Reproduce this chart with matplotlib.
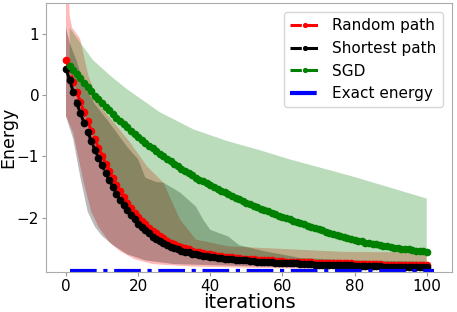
import numpy as np
import matplotlib
matplotlib.use("Agg")
import matplotlib.pyplot as plt

# mean energies per iteration
iters = np.arange(0, 101)
random_path = [0.57, 0.42, 0.22, 0.05, -0.12, -0.28, -0.43, -0.58, -0.72, -0.86,
               -0.99, -1.12, -1.24, -1.36, -1.47, -1.57, -1.67, -1.76, -1.84, -1.92,
               -1.99, -2.05, -2.11, -2.17, -2.22, -2.26, -2.30, -2.34, -2.38, -2.41,
               -2.44, -2.46, -2.48, -2.50, -2.52, -2.54, -2.56, -2.57, -2.58, -2.59,
               -2.60, -2.61, -2.62, -2.63, -2.64, -2.64, -2.65, -2.66, -2.66, -2.67,
               -2.67, -2.68, -2.68, -2.69, -2.69, -2.70, -2.70, -2.70, -2.71, -2.71,
               -2.71, -2.72, -2.72, -2.72, -2.72, -2.73, -2.73, -2.73, -2.73, -2.74,
               -2.74, -2.74, -2.74, -2.74, -2.75, -2.75, -2.75, -2.75, -2.75, -2.75,
               -2.76, -2.76, -2.76, -2.76, -2.76, -2.76, -2.76, -2.76, -2.77, -2.77,
               -2.77, -2.77, -2.77, -2.77, -2.77, -2.77, -2.77, -2.77, -2.77, -2.77,
               -2.77]
shortest_path = [0.43, 0.25, 0.05, -0.13, -0.30, -0.45, -0.60, -0.75, -0.89, -1.02,
                 -1.15, -1.27, -1.39, -1.50, -1.61, -1.71, -1.80, -1.88, -1.96, -2.03,
                 -2.10, -2.16, -2.21, -2.26, -2.31, -2.35, -2.39, -2.42, -2.45, -2.48,
                 -2.50, -2.52, -2.54, -2.56, -2.57, -2.59, -2.60, -2.61, -2.62, -2.63,
                 -2.64, -2.65, -2.66, -2.66, -2.67, -2.67, -2.68, -2.69, -2.69, -2.70,
                 -2.70, -2.71, -2.71, -2.72, -2.72, -2.73, -2.73, -2.73, -2.74, -2.74,
                 -2.74, -2.75, -2.75, -2.75, -2.75, -2.76, -2.76, -2.76, -2.76, -2.77,
                 -2.77, -2.77, -2.77, -2.77, -2.78, -2.78, -2.78, -2.78, -2.78, -2.78,
                 -2.79, -2.79, -2.79, -2.79, -2.79, -2.79, -2.79, -2.79, -2.80, -2.80,
                 -2.80, -2.80, -2.80, -2.80, -2.80, -2.80, -2.80, -2.80, -2.80, -2.80,
                 -2.80]
sgd_iters = np.arange(1, 101)
sgd = [0.48, 0.41, 0.34, 0.27, 0.20, 0.13, 0.06, -0.01, -0.07, -0.13,
       -0.19, -0.25, -0.31, -0.37, -0.42, -0.48, -0.53, -0.58, -0.63, -0.68,
       -0.73, -0.78, -0.83, -0.87, -0.92, -0.96, -1.00, -1.04, -1.08, -1.12,
       -1.16, -1.20, -1.24, -1.27, -1.31, -1.35, -1.38, -1.41, -1.44, -1.47,
       -1.50, -1.53, -1.56, -1.59, -1.62, -1.65, -1.68, -1.70, -1.73, -1.76,
       -1.78, -1.81, -1.83, -1.86, -1.88, -1.90, -1.93, -1.95, -1.97, -1.99,
       -2.01, -2.03, -2.05, -2.07, -2.09, -2.11, -2.13, -2.15, -2.17, -2.19,
       -2.21, -2.23, -2.25, -2.27, -2.29, -2.30, -2.32, -2.34, -2.35, -2.37,
       -2.38, -2.39, -2.41, -2.42, -2.43, -2.44, -2.45, -2.46, -2.47, -2.48,
       -2.49, -2.50, -2.51, -2.52, -2.52, -2.53, -2.54, -2.54, -2.55, -2.56]
exact_x = [1, 102]
exact_energy = [-2.875, -2.875]

# spread bands (min / max over runs), vertices
rp_band_x = [0, 1, 1.7, 3.9, 6.2, 9.4, 14, 17.7, 22.4, 27, 31.6, 36, 45, 77, 100]
rp_upper = [3.0, 1.3, 1.1, 0.92, 0.32, -0.18, -0.5, -0.77, -1.16, -1.43, -2.03, -2.36, -2.47, -2.56, -2.57]
rp_low_x = [0, 2, 5, 7, 9, 12, 15, 19, 24, 35, 60, 100]
rp_lower = [-0.34, -0.62, -1.45, -1.9, -2.15, -2.4, -2.55, -2.68, -2.76, -2.8, -2.83, -2.84]

sp_up_x = [0, 1, 3, 5, 8, 12, 17, 20, 22, 25, 27, 31.6, 36, 38, 40, 45, 48, 55, 65, 80, 100]
sp_upper = [1.1, 0.85, 0.55, 0.15, -0.15, -0.45, -0.85, -1.05, -1.35, -1.42, -1.43, -1.59, -1.82,
            -2.03, -2.2, -2.31, -2.45, -2.55, -2.66, -2.7, -2.72]
sp_low_x = [0, 2, 4, 6, 8, 10, 13, 17, 22, 30, 60, 100]
sp_lower = [-0.35, -0.72, -1.35, -1.9, -2.15, -2.3, -2.45, -2.6, -2.7, -2.76, -2.81, -2.83]

sgd_up_x = [1, 4, 7.5, 12, 16.8, 26, 35.3, 44.6, 53.7, 62, 79.5, 100]
sgd_upper = [1.1, 0.85, 0.57, 0.33, 0.1, -0.28, -0.56, -0.75, -0.9, -1.05, -1.33, -1.69]
sgd_low_x = [1, 5, 10, 15, 20, 25, 30, 40, 50, 70, 100]
sgd_lower = [0.4, -0.28, -1.0, -1.57, -1.99, -2.26, -2.44, -2.6, -2.68, -2.73, -2.76]

fig = plt.figure(figsize=(4.57, 3.12), dpi=100)
ax = fig.add_axes([0.101, 0.128, 0.888, 0.862])

def band(xs_up, up, xs_low, low, color):
    # polygon: upper edge left->right, lower edge right->left
    px = list(xs_up) + list(xs_low)[::-1]
    py = list(up) + list(low)[::-1]
    ax.fill(px, py, color=color, alpha=0.27, lw=0)

band(rp_band_x, rp_upper, rp_low_x, rp_lower, "red")
band(sp_up_x, sp_upper, sp_low_x, sp_lower, "black")
band(sgd_up_x, sgd_upper, sgd_low_x, sgd_lower, "green")

ax.plot(iters, random_path, "--o", color="red", lw=2.2, ms=4.5, label="Random path")
ax.plot(iters, shortest_path, "--o", color="black", lw=2.2, ms=4.5, label="Shortest path")
ax.plot(sgd_iters, sgd, "--o", color="green", lw=2.2, ms=4.5, label="SGD")
ax.plot(exact_x, exact_energy, "-.", color="blue", lw=3, label="Exact energy")

ax.set_xlim(-5.5, 107)
ax.set_ylim(-2.89, 1.5)
ax.set_xticks([0, 20, 40, 60, 80, 100])
ax.set_yticks([-2, -1, 0, 1])
ax.tick_params(labelsize=11, color="#999999", pad=2, length=3)
for s in ax.spines.values():
    s.set_color("#aaaaaa")
ax.set_xlabel("iterations", fontsize=14, labelpad=-1)
ax.set_ylabel("Energy", fontsize=12.5, labelpad=0)
ax.legend(loc="upper right", fontsize=11, markerscale=0.6, borderaxespad=0.6)

plt.savefig("out.png", dpi=100)
